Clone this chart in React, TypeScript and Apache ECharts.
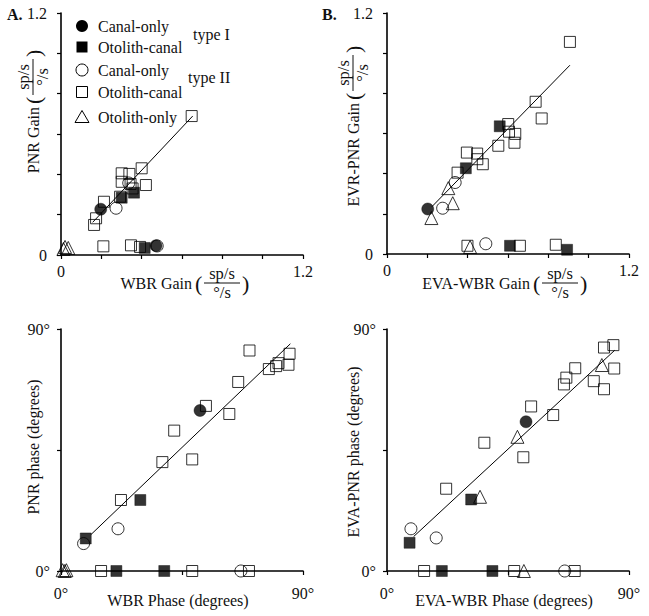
import React, { useEffect, useRef } from "react";
import * as echarts from "echarts";

const FONT = '"Liberation Serif", "Times New Roman", serif';

// ---------- Panel A: gain (WBR vs PNR) ----------
const aTypeICanal = [[0.197, 0.227], [0.471, 0.046]];
const aTypeIOtolith = [[0.301, 0.284], [0.362, 0.309], [0.415, 0.035]];
const aTypeIICanal = [[0.273, 0.232], [0.336, 0.357], [0.477, 0.045]];
const aTypeIIOtolith = [
  [0.164, 0.149], [0.174, 0.182], [0.213, 0.264], [0.293, 0.289], [0.301, 0.405],
  [0.301, 0.363], [0.339, 0.402], [0.345, 0.352], [0.355, 0.33], [0.40, 0.43],
  [0.421, 0.347], [0.648, 0.689], [0.21, 0.043], [0.347, 0.048], [0.392, 0.04],
];
const aOtolithOnly = [[0.012, 0.03], [0.02, 0.04], [0.036, 0.035]];
const aFit = [[0.157, 0.162], [0.653, 0.689]];

// ---------- Panel B: gain (EVA-WBR vs EVR-PNR) ----------
const bTypeICanal = [[0.202, 0.224]];
const bTypeIOtolith = [[0.391, 0.427], [0.559, 0.636], [0.61, 0.041], [0.893, 0.021]];
const bTypeIICanal = [[0.276, 0.228], [0.338, 0.356], [0.49, 0.051]];
const bTypeIIOtolith = [
  [0.35, 0.405], [0.396, 0.505], [0.447, 0.5], [0.448, 0.472], [0.475, 0.447],
  [0.552, 0.539], [0.601, 0.647], [0.605, 0.609], [0.636, 0.598], [0.632, 0.554],
  [0.737, 0.758], [0.767, 0.675], [0.907, 1.056], [0.399, 0.041], [0.659, 0.041],
  [0.837, 0.046],
];
const bOtolithOnly = [[0.22, 0.179], [0.304, 0.328], [0.326, 0.253], [0.412, 0.035]];
const bFit = [[0.223, 0.236], [0.907, 0.94]];

// ---------- Panel C: phase (WBR vs PNR) ----------
const cTypeICanal = [[51.7, 59.7]];
const cTypeIOtolith = [[9.2, 12.1], [29.5, 26.4], [20.6, 0], [38.4, 0]];
const cTypeIICanal = [[8.4, 10.2], [21.2, 15.7], [66.9, 0]];
const cTypeIIOtolith = [
  [22.3, 26.4], [37.7, 40.5], [42.1, 52.2], [48.8, 41.5], [53.9, 61.4],
  [62.6, 58.4], [65.9, 70.3], [70.1, 82.0], [77.3, 75.1], [80.0, 76.2],
  [80.9, 77.3], [84.6, 76.7], [85.0, 80.8], [14.9, 0], [48.8, 0], [69.9, 0],
];
const cOtolithOnly = [[0.6, 0.3], [1.4, 0], [2.0, 0.3]];
const cFit = [[11.2, 13.6], [85.3, 84.5]];

// ---------- Panel D: phase (EVA-WBR vs EVA-PNR) ----------
const dTypeICanal = [[51.7, 55.5]];
const dTypeIOtolith = [[8.4, 10.5], [31.3, 26.6], [20.4, 0], [39.2, 0]];
const dTypeIICanal = [[8.9, 15.7], [18.3, 12.3], [66.1, 0]];
const dTypeIIOtolith = [
  [22.0, 30.6], [36.2, 47.7], [50.7, 42.3], [53.6, 61.2], [61.8, 58.0],
  [65.8, 69.4], [66.7, 71.9], [70.0, 75.4], [76.9, 70.6], [80.7, 67.6],
  [80.7, 83.1], [84.2, 84.0], [84.5, 75.3], [13.8, 0], [47.3, 0], [69.8, 0],
];
const dOtolithOnly = [[34.6, 27.6], [48.5, 49.9], [79.9, 76.6], [50.9, 0]];
const dFit = [[9.9, 12.8], [84.7, 82.1]];

const gainTicks = ["0", "1.2"];
const phaseTicks = ["0°", "90°"];

const legendItems = [
  { label: "Canal-only", kind: "fcircle" },
  { label: "Otolith-canal", kind: "fsquare" },
  { label: "Canal-only", kind: "ocircle" },
  { label: "Otolith-canal", kind: "osquare" },
  { label: "Otolith-only", kind: "triangle" },
];

const INK = "#111";

function txt(text: string, x: number, y: number, size: number, align = "left", extra: any = {}) {
  return {
    type: "text",
    x,
    y,
    style: {
      text,
      font: `${extra.bold ? "bold " : ""}${size}px ${FONT}`,
      fill: INK,
      align,
      textAlign: align,
      verticalAlign: "middle",
      textVerticalAlign: "middle",
    },
    silent: true,
  };
}

function fracTitle(label: string, ox: number, oy: number, rotated: boolean) {
  return {
    type: "group",
    x: ox,
    y: oy,
    rotation: rotated ? Math.PI / 2 : 0,
    silent: true,
    children: [
      txt(label, -3, 0, 16, "right"),
      txt("(", 0, 0, 22, "left"),
      txt("sp/s", 27, -9.5, 16.5, "center"),
      {
        type: "line",
        shape: { x1: 9, y1: 0, x2: 45, y2: 0 },
        style: { stroke: INK, lineWidth: 1 },
        silent: true,
      },
      txt("°/s", 27, 9.5, 16.5, "center"),
      txt(")", 47, 0, 22, "left"),
    ],
  };
}

function plainTitle(label: string, cx: number, cy: number, rotated: boolean) {
  return {
    type: "group",
    x: cx,
    y: cy,
    rotation: rotated ? Math.PI / 2 : 0,
    silent: true,
    children: [txt(label, 0, 0, 16, "center")],
  };
}

function legendGraphic() {
  const x0 = 82;
  const ys = [26, 47, 70, 92, 117];
  const out: any[] = [];
  legendItems.forEach((it, i) => {
    const y = ys[i];
    if (it.kind === "fcircle") {
      out.push({ type: "circle", shape: { cx: x0, cy: y, r: 6 }, style: { fill: "#000" }, silent: true });
    } else if (it.kind === "ocircle") {
      out.push({ type: "circle", shape: { cx: x0, cy: y, r: 6 }, style: { fill: "none", stroke: "#000", lineWidth: 1 }, silent: true });
    } else if (it.kind === "fsquare") {
      out.push({ type: "rect", shape: { x: x0 - 5.5, y: y - 5.5, width: 11, height: 11 }, style: { fill: "#000" }, silent: true });
    } else if (it.kind === "osquare") {
      out.push({ type: "rect", shape: { x: x0 - 5.5, y: y - 5.5, width: 11, height: 11 }, style: { fill: "none", stroke: "#000", lineWidth: 1 }, silent: true });
    } else {
      out.push({
        type: "polygon",
        shape: { points: [[x0, y - 6.5], [x0 + 7, y + 5.5], [x0 - 7, y + 5.5]] },
        style: { fill: "none", stroke: "#000", lineWidth: 1 },
        silent: true,
      });
    }
    out.push(txt(it.label, 98, y, 16, "left"));
  });
  out.push(txt("type I", 193, 34, 16, "left"));
  out.push(txt("type II", 188, 77, 16, "left"));
  return out;
}

const grids = [
  { left: 61, top: 13, width: 242, height: 242 },
  { left: 387, top: 13, width: 242, height: 241 },
  { left: 61, top: 329, width: 242, height: 242 },
  { left: 387, top: 329, width: 242, height: 242 },
];

function axisCommon(gainAxis: boolean, isX: boolean) {
  const max = gainAxis ? 1.2 : 90;
  const interval = gainAxis ? 0.2 : 45;
  const labels = gainAxis ? gainTicks : phaseTicks;
  return {
    type: "value",
    min: 0,
    max,
    interval,
    axisLine: { show: true, onZero: false, lineStyle: { color: "#000", width: 1.6 } },
    axisTick: { show: true, inside: false, length: 4, lineStyle: { color: "#000", width: 1.2 } },
    splitLine: { show: false },
    axisLabel: {
      show: true,
      showMinLabel: true,
      showMaxLabel: true,
      margin: isX ? (gainAxis ? 8 : 14) : gainAxis ? 14 : 11,
      fontFamily: FONT,
      fontSize: 16,
      color: INK,
      formatter: (v: number) => (Math.abs(v) < 1e-9 ? labels[0] : Math.abs(v - max) < 1e-6 ? labels[1] : ""),
    },
  };
}

const markerStyles = [
  { symbol: "circle", size: 12, style: { color: "#000", borderColor: "#000", borderWidth: 0.5 } },
  { symbol: "rect", size: 11, style: { color: "#000", borderColor: "#000", borderWidth: 0.5 } },
  { symbol: "circle", size: 12, style: { color: "rgba(255,255,255,0)", borderColor: "#000", borderWidth: 1 } },
  { symbol: "rect", size: 11, style: { color: "rgba(255,255,255,0)", borderColor: "#000", borderWidth: 1 } },
  { symbol: "triangle", size: 13, style: { color: "rgba(255,255,255,0)", borderColor: "#000", borderWidth: 1 } },
];

const panels = [
  { groups: [aTypeICanal, aTypeIOtolith, aTypeIICanal, aTypeIIOtolith, aOtolithOnly], fit: aFit },
  { groups: [bTypeICanal, bTypeIOtolith, bTypeIICanal, bTypeIIOtolith, bOtolithOnly], fit: bFit },
  { groups: [cTypeICanal, cTypeIOtolith, cTypeIICanal, cTypeIIOtolith, cOtolithOnly], fit: cFit },
  { groups: [dTypeICanal, dTypeIOtolith, dTypeIICanal, dTypeIIOtolith, dOtolithOnly], fit: dFit },
];

export default function App() {
  const ref = useRef<HTMLDivElement>(null);
  useEffect(() => {
    if (!ref.current) return;
    const chart = echarts.init(ref.current, undefined, { renderer: "svg" });
    const series: any[] = [];
    panels.forEach((p, i) => {
      series.push({
        type: "line",
        xAxisIndex: i,
        yAxisIndex: i,
        data: p.fit,
        symbol: "none",
        silent: true,
        lineStyle: { color: "#000", width: 1 },
        z: 2,
      });
      p.groups.forEach((g, k) => {
        const m = markerStyles[k];
        series.push({
          type: "scatter",
          xAxisIndex: i,
          yAxisIndex: i,
          data: g,
          symbol: m.symbol,
          symbolSize: m.size,
          itemStyle: m.style,
          clip: false,
          silent: true,
          z: 3,
        });
      });
    });
    const graphic: any[] = [
      txt("A.", 7, 14, 16, "left", { bold: true }),
      txt("B.", 322, 14, 16, "left", { bold: true }),
      ...legendGraphic(),
      fracTitle("PNR Gain", 33, 104, true),
      fracTitle("WBR Gain", 195, 283, false),
      fracTitle("EVR-PNR Gain", 353, 100, true),
      fracTitle("EVA-WBR Gain", 533, 283, false),
      plainTitle("PNR phase (degrees)", 33, 447, true),
      plainTitle("WBR Phase (degrees)", 178, 600, false),
      plainTitle("EVA-PNR phase (degrees)", 353, 452, true),
      plainTitle("EVA-WBR Phase (degrees)", 504, 600, false),
    ];
    chart.setOption({
      animation: false,
      backgroundColor: "#fff",
      grid: grids,
      xAxis: grids.map((_, i) => ({ ...axisCommon(i < 2, true), gridIndex: i })),
      yAxis: grids.map((_, i) => ({ ...axisCommon(i < 2, false), gridIndex: i })),
      series,
      graphic,
    });
    return () => chart.dispose();
  }, []);
  return (
    <div
      ref={ref}
      style={{ position: "fixed", left: 0, top: 0, width: 649, height: 616, background: "#fff" }}
    />
  );
}
